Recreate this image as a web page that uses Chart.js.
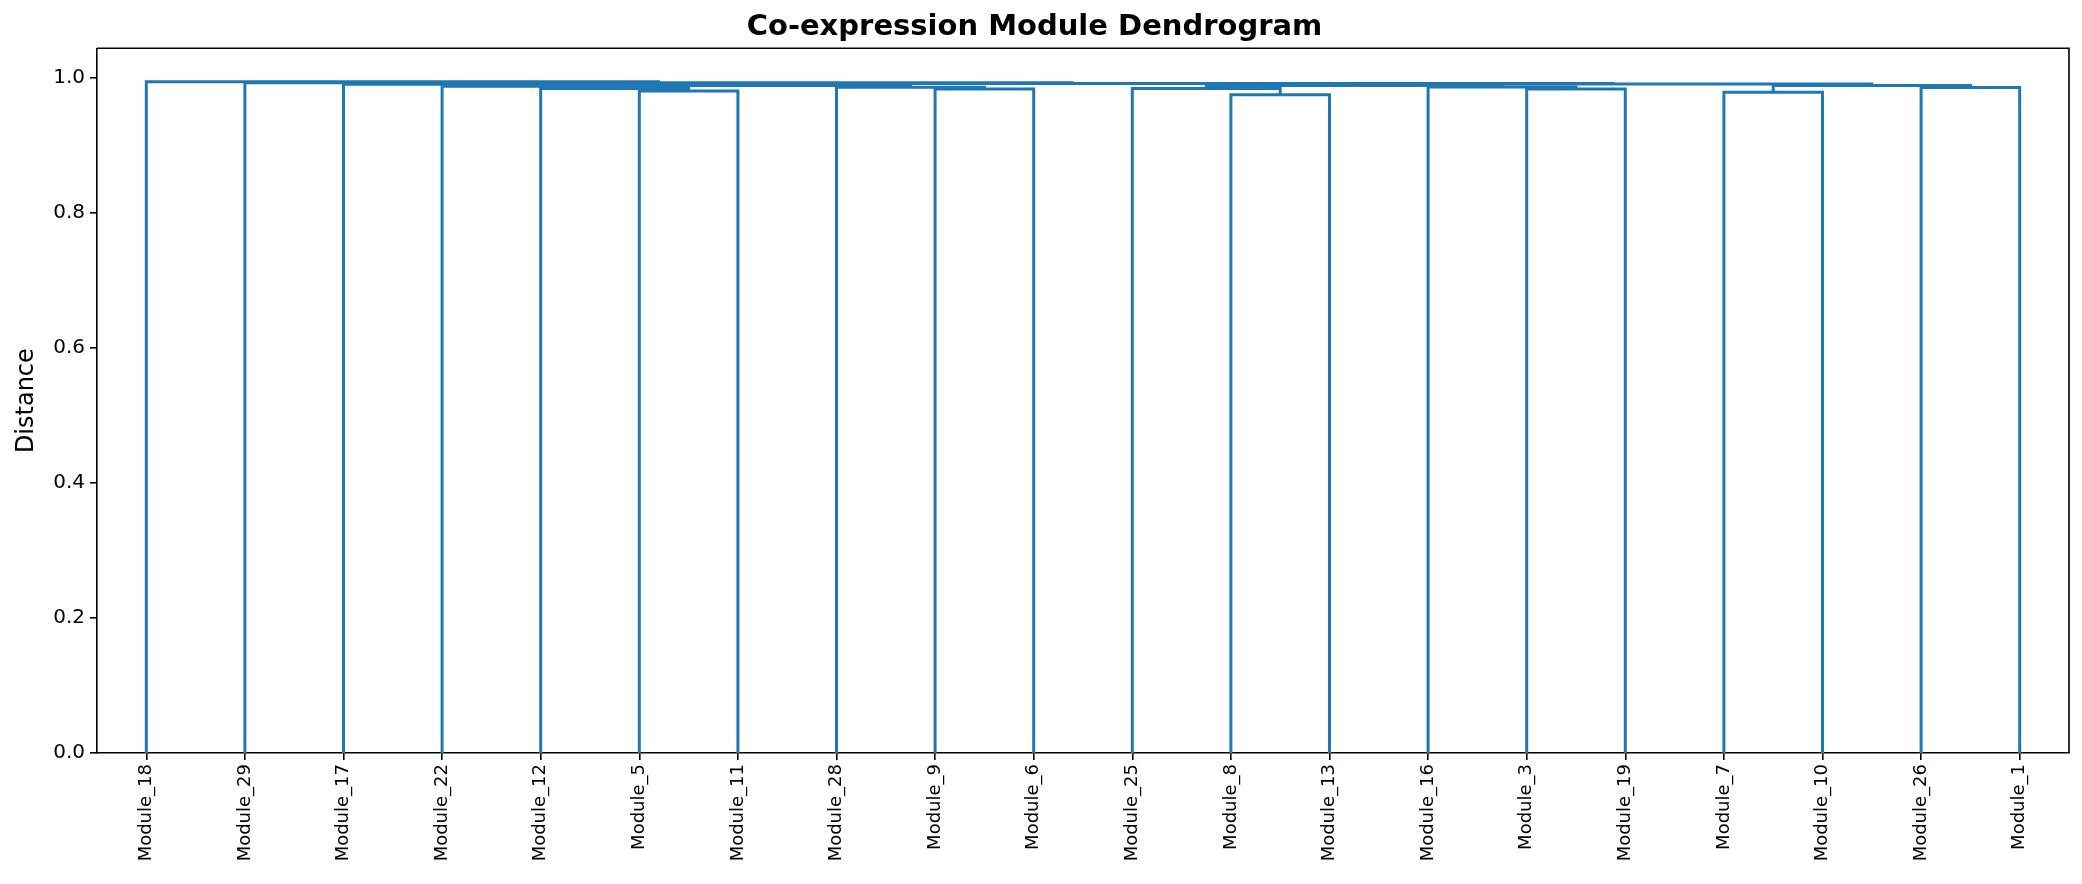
<!DOCTYPE html>
<html>
<head>
<meta charset="utf-8">
<script src="https://cdn.jsdelivr.net/npm/chart.js@4/dist/chart.umd.min.js"></script>
<style>
  html, body { margin: 0; padding: 0; background: #ffffff; }
  #wrap { width: 2082px; height: 884px; }
</style>
</head>
<body>
<div id="wrap"><canvas id="c" width="2082" height="884"></canvas></div>
<script>
// Leaf order (x-axis tick labels)
const leaves = ['Module_18','Module_29','Module_17','Module_22','Module_12','Module_5','Module_11','Module_28','Module_9','Module_6','Module_25','Module_8','Module_13','Module_16','Module_3','Module_19','Module_7','Module_10','Module_26','Module_1'];

// Merge steps: node N{i} = mergeLeft[i] + mergeRight[i] at mergeHeight[i]
const mergeLeft   = ['Module_5','Module_12','Module_9','Module_28','Module_22','N4','Module_17','Module_8','Module_25','Module_3','Module_16','N8','Module_7','Module_26','N12','N11','N6','Module_29','Module_18'];
const mergeRight  = ['Module_11','N0','Module_6','N2','N1','N3','N5','Module_13','N7','Module_19','N9','N10','Module_10','Module_1','N13','N14','N15','N16','N17'];
const mergeHeight = [0.980,0.9835,0.983,0.9855,0.987,0.988,0.990,0.9745,0.9835,0.983,0.986,0.988,0.978,0.985,0.988,0.9905,0.9912,0.992,0.9935];

const yTicks = [0.0, 0.2, 0.4, 0.6, 0.8, 1.0];
const lineColor = '#1f77b4';

// Build node positions (leaf i at 5 + 10*i, like scipy)
const pos = {};
leaves.forEach((name, i) => { pos[name] = { x: 5 + 10 * i, y: 0 }; });
const datasets = [];
mergeLeft.forEach((l, i) => {
  const r = mergeRight[i];
  const h = mergeHeight[i];
  const a = pos[l], b = pos[r];
  datasets.push({
    data: [{x: a.x, y: a.y}, {x: a.x, y: h}, {x: b.x, y: h}, {x: b.x, y: b.y}],
    borderColor: lineColor,
    borderWidth: 3,
    pointRadius: 0,
    fill: false,
    tension: 0,
    borderJoinStyle: 'miter',
    borderCapStyle: 'butt'
  });
  pos['N' + i] = { x: (a.x + b.x) / 2, y: h };
});
const leafX = leaves.map((_, i) => 5 + 10 * i);
const yMax = Math.max(...mergeHeight) * 1.05;

const bgPlugin = {
  id: 'bg',
  beforeDraw(chart) {
    const ctx = chart.ctx;
    ctx.save();
    ctx.fillStyle = '#ffffff';
    ctx.fillRect(0, 0, chart.width, chart.height);
    ctx.restore();
  },
  afterDraw(chart) {
    const {left, right, top, bottom} = chart.chartArea;
    const ctx = chart.ctx;
    ctx.save();
    ctx.strokeStyle = '#000000';
    ctx.lineWidth = 1.6;
    ctx.beginPath();
    ctx.moveTo(left, top);
    ctx.lineTo(right, top);
    ctx.lineTo(right, bottom);
    ctx.stroke();
    ctx.restore();
  }
};

Chart.defaults.font.family = "'DejaVu Sans', sans-serif";
Chart.defaults.color = '#000000';

new Chart(document.getElementById('c'), {
  type: 'line',
  data: { datasets },
  options: {
    responsive: false,
    devicePixelRatio: 1,
    animation: false,
    layout: { padding: { left: 0, right: 13, top: 0, bottom: 0 } },
    plugins: {
      legend: { display: false },
      tooltip: { enabled: false },
      title: {
        display: true,
        text: 'Co-expression Module Dendrogram',
        color: '#000000',
        font: { size: 29, weight: 'bold' },
        padding: { top: 10, bottom: 3.5 }
      }
    },
    scales: {
      x: {
        type: 'linear',
        min: 0,
        max: leaves.length * 10,
        afterBuildTicks(scale) { scale.ticks = leafX.map(v => ({ value: v })); },
        afterFit(scale) { scale.height = 131; },
        grid: { display: true, drawOnChartArea: false, drawTicks: true, tickLength: 7, color: '#000000', lineWidth: 1.6 },
        border: { display: true, color: '#000000', width: 1.6 },
        ticks: {
          autoSkip: false,
          maxRotation: 90,
          minRotation: 90,
          padding: 4,
          font: { size: 18 },
          callback: (v) => { const i = Math.round((v - 5) / 10); return leaves[i] || ''; }
        }
      },
      y: {
        type: 'linear',
        min: 0,
        max: yMax,
        afterBuildTicks(scale) { scale.ticks = yTicks.map(v => ({ value: v })); },
        afterFit(scale) { scale.width = 97; },
        grid: { display: true, drawOnChartArea: false, drawTicks: true, tickLength: 7, color: '#000000', lineWidth: 1.6 },
        border: { display: true, color: '#000000', width: 1.6 },
        title: { display: true, text: 'Distance', font: { size: 24 }, padding: { top: 12, bottom: 0 } },
        ticks: {
          padding: 5,
          font: { size: 20 },
          callback: (v) => Number(v).toFixed(1)
        }
      }
    }
  },
  plugins: [bgPlugin]
});
</script>
</body>
</html>
